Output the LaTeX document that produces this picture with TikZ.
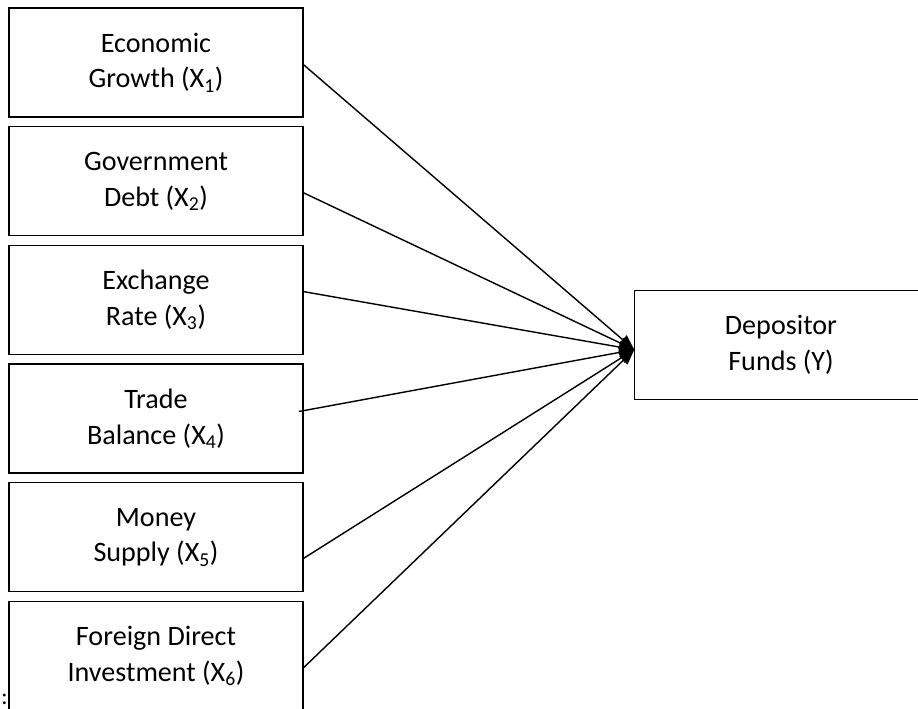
\documentclass[tikz,border=0pt]{standalone}
\usepackage{fontspec}
\setmainfont{Carlito}
\usetikzlibrary{arrows.meta}

\begin{document}
\begin{tikzpicture}[x=0.03cm, y=-0.03cm, node distance=3.56cm,
	main node/.style={rectangle,draw,line width=1.2pt,minimum width=8.82cm,minimum height=3.27cm,
		align=center,font=\fontsize{24}{30.6}\selectfont}]
	\useasboundingbox (0,0) rectangle (918,709);
	
	\node[main node] (1) at (156,62.5) {Economic\\Growth (X\textsubscript{1})};
	\node[main node] (2) [below of=1] {Government\\Debt (X\textsubscript{2})};
	\node[main node] (3) [below of=2] {Exchange\\Rate (X\textsubscript{3})};
	\node[main node] (4) [below of=3] {Trade\\Balance (X\textsubscript{4})};
	\node[main node] (5) [below of=4] {Money\\Supply (X\textsubscript{5})};
	\node[main node] (6) [below of=5] {Foreign Direct\\Investment (X\textsubscript{6})};
	% right box runs off the page, so only three sides
	\node[main node,draw=none,minimum width=8.76cm,minimum height=3.24cm] (7) at (781,345) {Depositor\\Funds (Y)};
	\draw[line width=1.2pt] ([xshift=20pt]7.north east) -- (7.north west) -- (7.south west) -- ([xshift=20pt]7.south east);
	\node[inner sep=0pt,font=\fontsize{20}{24}\selectfont] (colon) at (4.5,699) {:};
	
	\coordinate (tip) at ([yshift=-4pt]7.west);
	
	\path[-{Triangle[length=13pt,width=10pt]},line width=1.2pt]
	([yshift=-2pt]1.east) edge (tip)
	([yshift=-10pt]2.east) edge (tip)
	([yshift=7pt]3.east) edge (tip)
	([xshift=-4pt,yshift=6pt]4.east) edge (tip)
	([yshift=-18pt]5.east) edge (tip)
	([yshift=-10pt]6.east) edge (tip);
\end{tikzpicture}
\end{document}
